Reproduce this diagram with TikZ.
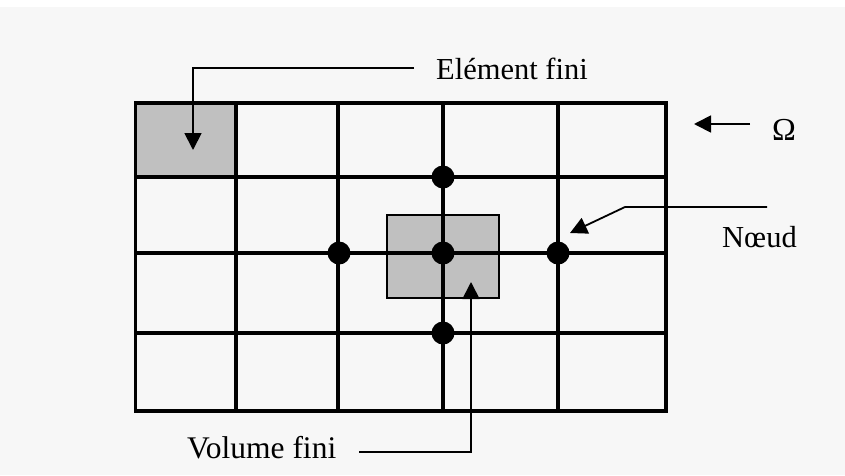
\documentclass[tikz,border=0pt]{standalone}
\usepackage{fontspec}
\setmainfont{Liberation Serif}
\usetikzlibrary{arrows.meta}
\definecolor{bg}{HTML}{F7F7F7}
\definecolor{cellgray}{HTML}{C0C0C0}
\begin{document}
\begin{tikzpicture}[x=1pt,y=-1pt,
  gridline/.style={line width=3.6pt},
  midline/.style={line width=4.6pt},
  dot/.style={circle,fill=black,inner sep=0pt,minimum size=23pt},
  leader/.style={line width=1.8pt,-{Triangle[length=17pt,width=17pt]}},
  lbl/.style={font=\fontsize{30.5}{36}\selectfont,inner sep=0pt}]
\useasboundingbox (0,0) rectangle (845,475);
\fill[white] (0,0) rectangle (845,7);
\fill[bg] (0,7) rectangle (845,475);
% shaded finite element and finite volume
\fill[cellgray] (136,103) rectangle (236,177);
\draw[fill=cellgray,line width=1.8pt] (387,215) rectangle (499,298);
% grid
\foreach \y in {103,177,253,333,411}
  \draw[gridline] (134,\y) -- (668,\y);
\foreach \x in {135.5,236,338,558,666}
  \draw[gridline] (\x,101) -- (\x,413);
\draw[midline] (443,101) -- (443,413);
% nodes (dots)
\node[dot] (n1) at (443,177) {};
\node[dot] (n2) at (443,253) {};
\node[dot] (n3) at (339,253) {};
\node[dot] (n4) at (558,253) {};
\node[dot] (n5) at (443,333) {};
% labels
\node[lbl,anchor=west] (ef) at (436,69) {Elément fini};
\node[lbl,anchor=west] (om) at (772,130) {\fontsize{32}{36}\selectfont Ω};
\node[lbl,anchor=west] (nd) at (722,237) {Nœud};
\node[lbl,anchor=west] (vf) at (187,448) {\fontsize{31.5}{36}\selectfont Volume fini};
% leader lines
\coordinate (efs) at (414,68);
\coordinate (efc) at (193,68);
\coordinate (eft) at (193,150);
\draw[leader] (efs) -- (efc) -- (eft);
\coordinate (oms) at (750,124);
\coordinate (omt) at (694,124);
\draw[leader] (oms) -- (omt);
\coordinate (nds) at (767,207);
\coordinate (ndc) at (625,207);
\coordinate (ndt) at (570,233);
\draw[leader] (nds) -- (ndc) -- (ndt);
\coordinate (vfs) at (359,452);
\coordinate (vfc) at (471,452);
\coordinate (vft) at (471,282);
\draw[leader] (vfs) -- (vfc) -- (vft);
\end{tikzpicture}
\end{document}
